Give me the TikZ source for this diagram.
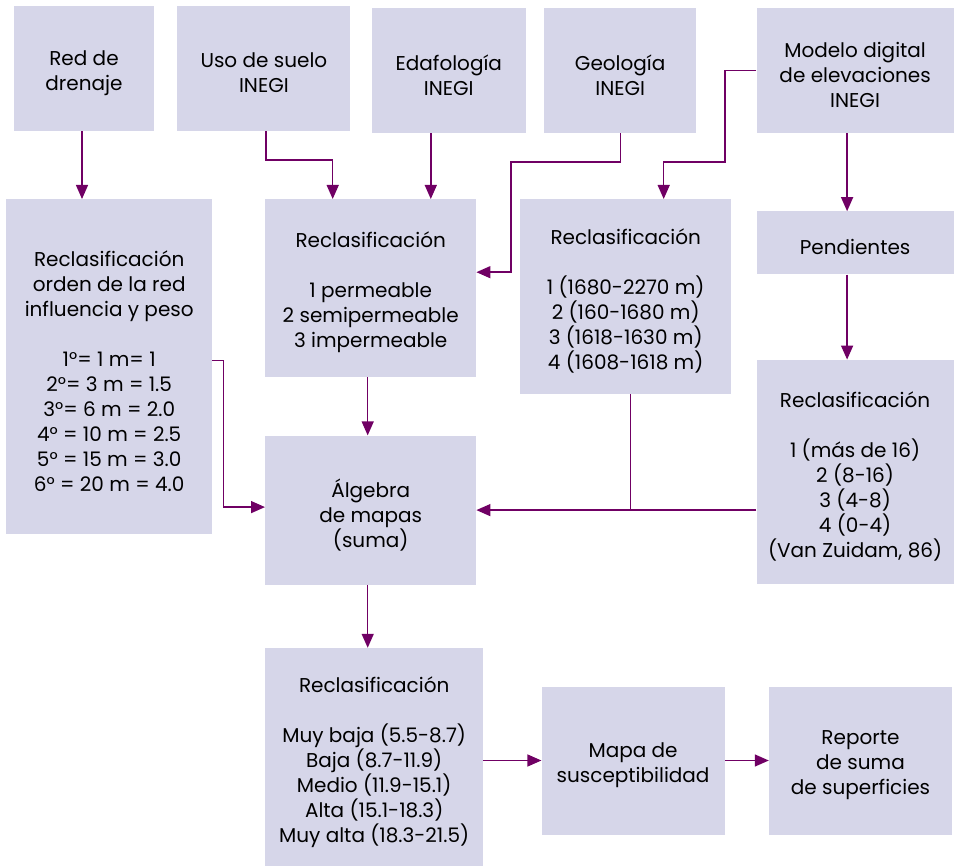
\documentclass[tikz,border=0pt]{standalone}
\usepackage{fontspec}
\setmainfont{Poppins}
\usetikzlibrary{positioning,arrows.meta}
\definecolor{boxfill}{RGB}{214,214,233}
\definecolor{linecol}{RGB}{112,0,100}
\begin{document}
\begin{tikzpicture}[
                x=1pt, y=-1pt,
                font=\fontsize{20}{25}\selectfont,
                block/.style={rectangle, fill=boxfill, align=center, inner sep=0pt,
                    execute at begin node={\vbox\bgroup\vskip9pt\hbox\bgroup},
                    execute at end node={\egroup\egroup}},
                line/.style={draw=linecol, line width=1.4pt},
                arrow/.style={line, -{Triangle[length=14pt,width=12pt]}}
            ]
                \useasboundingbox (0,0) rectangle (954,866);
                \node[block, minimum width=140pt, minimum height=125pt] (red) at (84,68.5) {Red de\\drenaje};
                \node[block, minimum width=173pt, minimum height=125pt, right=23pt of red] (uso) {Uso de suelo\\INEGI};
                \node[block, minimum width=154pt, minimum height=125pt, right=21pt of uso, yshift=-2pt] (edaf) {Edafología\\INEGI};
                \node[block, minimum width=152pt, minimum height=125pt, right=18pt of edaf] (geo) {Geología\\INEGI};
                \node[block, minimum width=197pt, minimum height=125pt, right=60pt of geo] (mde) {Modelo digital\\de elevaciones\\INEGI};

                \node[block, minimum width=206pt, minimum height=335pt, anchor=north west] (recred) at (6,199) {Reclasificación\\orden de la red\\influencia y peso\\[25pt]1°= 1 m= 1\\2°= 3 m = 1.5\\3°= 6 m = 2.0\\4° = 10 m = 2.5\\5° = 15 m = 3.0\\6° = 20 m = 4.0};
                \node[block, minimum width=211pt, minimum height=178pt, anchor=north west] (recperm) at (265,199) {Reclasificación\\[25pt]1 permeable\\2 semipermeable\\3 impermeable};
                \node[block, minimum width=211pt, minimum height=195pt, anchor=north west] (recalt) at (520,199) {Reclasificación\\[25pt]1 (1680-2270 m)\\2 (160-1680 m)\\3 (1618-1630 m)\\4 (1608-1618 m)};
                \node[block, minimum width=197pt, minimum height=63pt, below=78pt of mde] (pend) {Pendientes};
                \node[block, minimum width=197pt, minimum height=224pt, below=85pt of pend] (recpend) {Reclasificación\\[25pt]1 (más de 16)\\2 (8-16)\\3 (4-8)\\4 (0-4)\\(Van Zuidam, 86)};

                \node[block, minimum width=211pt, minimum height=149pt, below=58pt of recperm] (alg) {Álgebra\\de mapas\\(suma)};
                \node[block, minimum width=218pt, minimum height=219pt, below=63pt of alg.south west, anchor=north west] (recsus) {Reclasificación\\[25pt]Muy baja (5.5-8.7)\\Baja (8.7-11.9)\\Medio (11.9-15.1)\\Alta (15.1-18.3)\\Muy alta (18.3-21.5)};
                \node[block, minimum width=183pt, minimum height=148pt, right=58pt of recsus, yshift=-3pt] (mapa) {Mapa de\\susceptibilidad};
                \node[block, minimum width=183pt, minimum height=148pt, right=44pt of mapa] (rep) {Reporte\\de suma\\de superficies};

                \coordinate (geoturn) at (511,162);
                \coordinate (mdeturn) at (725,162);

                \draw[arrow] ([xshift=-2pt]red.south) -- ([xshift=-2pt]red.south |- recred.north);
                \draw[arrow] ([xshift=2pt]uso.south) -- ++(0,29) -| ([xshift=-38pt]recperm.north);
                \draw[arrow] ([xshift=-18pt]edaf.south) -- ([xshift=-18pt]edaf.south |- recperm.north);
                \draw[arrow] (geo.south) |- (geoturn) |- ([yshift=16pt]recperm.east);
                \draw[arrow] (mde.west) -| (mdeturn) -| ([xshift=38pt]recalt.north);
                \draw[arrow] ([xshift=-8pt]mde.south) -- ([xshift=-8pt]pend.north);
                \draw[arrow] ([xshift=-8pt]pend.south) -- ([xshift=-8pt]recpend.north);
                \draw[arrow] ([xshift=-3pt]recperm.south) -- ([xshift=-3pt]alg.north);
                \draw[arrow] ([yshift=6pt]recred.east) -- ++(11,0) |- ([yshift=3pt]alg.west);
                \draw[arrow] (recpend.west |- alg.east) -- (alg.east);
                \draw[line] ([xshift=5pt]recalt.south) -- ([xshift=5pt]recalt.south |- alg.east);
                \draw[arrow] ([xshift=-3pt]alg.south) -- ([xshift=-3pt]alg.south |- recsus.north);
                \draw[arrow] (recsus.east |- mapa.west) -- (mapa.west);
                \draw[arrow] (mapa) -- (rep);
            \end{tikzpicture}
\end{document}
